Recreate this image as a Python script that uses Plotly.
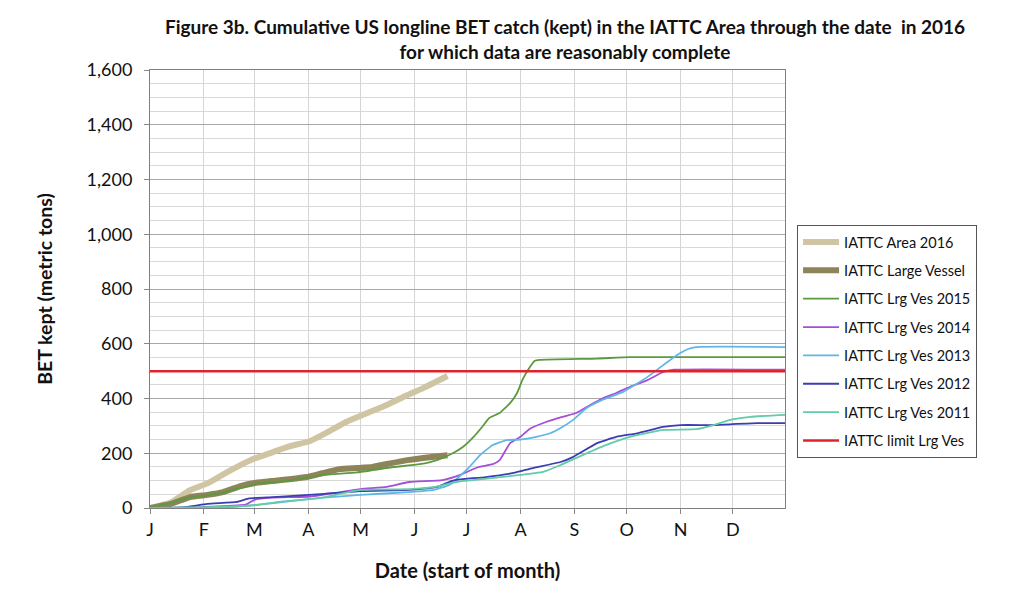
import pandas as pd
import plotly.graph_objects as go

# ---- data: day of year (0 = Jan 1) and cumulative BET kept (metric tons) ----
area2016_day = [0, 12, 23, 33, 40, 50, 59, 71, 80, 92, 102, 113, 125, 136, 148, 157, 171]
area2016_val = [0, 20, 65, 90, 115, 150, 178, 205, 225, 245, 277, 315, 347, 376, 413, 438, 482]

large_day = [0, 12, 23, 33, 42, 52, 61, 71, 80, 90, 99, 109, 119, 128, 138, 148, 157, 171]
large_val = [0, 15, 40, 48, 58, 80, 92, 99, 105, 113, 127, 142, 146, 150, 163, 175, 183, 193]

y2015_day = [0, 23, 42, 61, 80, 99, 119, 138, 155, 165, 174, 180, 186, 191, 195, 201, 207, 211, 214, 218, 221, 224, 257, 276, 365]
y2015_val = [0, 38, 55, 88, 100, 120, 130, 148, 160, 175, 200, 224, 260, 297, 329, 347, 383, 420, 467, 511, 537, 541, 546, 551, 551]

y2014_day = [0, 20, 35, 55, 60, 70, 92, 121, 136, 149, 168, 178, 188, 197, 201, 207, 213, 218, 228, 237, 245, 253, 260, 268, 276, 286, 295, 301, 365]
y2014_val = [0, 0, 5, 12, 30, 38, 42, 69, 77, 95, 102, 120, 148, 160, 175, 237, 260, 288, 315, 333, 347, 376, 400, 420, 443, 467, 497, 505, 505]

y2013_day = [0, 40, 50, 71, 98, 121, 149, 163, 172, 182, 190, 197, 205, 213, 222, 230, 236, 243, 251, 260, 272, 286, 295, 303, 309, 314, 365]
y2013_val = [0, 0, 5, 18, 37, 48, 58, 66, 84, 139, 195, 230, 248, 250, 260, 273, 292, 321, 365, 395, 424, 479, 522, 559, 580, 588, 588]

y2012_day = [0, 20, 33, 50, 57, 71, 98, 121, 149, 165, 174, 181, 193, 209, 220, 236, 243, 257, 268, 280, 295, 305, 324, 337, 349, 365]
y2012_val = [0, 3, 15, 22, 35, 40, 51, 62, 66, 77, 100, 106, 113, 128, 146, 168, 186, 237, 260, 273, 296, 303, 303, 307, 310, 310]

y2011_day = [0, 33, 60, 71, 98, 121, 149, 164, 176, 181, 209, 226, 236, 246, 262, 276, 295, 314, 324, 333, 345, 365]
y2011_val = [0, 3, 10, 20, 37, 66, 69, 77, 95, 99, 118, 132, 157, 186, 230, 260, 285, 288, 303, 321, 333, 340]

limit_day = [0, 365]
limit_val = [500, 500]

month_ticks = ["2016-01-01", "2016-02-01", "2016-03-01", "2016-04-01", "2016-05-01", "2016-06-01",
               "2016-07-01", "2016-08-01", "2016-09-01", "2016-10-01", "2016-11-01", "2016-12-01"]
month_labels = ["J", "F", "M", "A", "M", "J", "J", "A", "S", "O", "N", "D"]

series = [
    ("IATTC Area 2016", area2016_day, area2016_val, "#CFC5A3", 6),
    ("IATTC Large Vessel", large_day, large_val, "#8E845A", 6),
    ("IATTC Lrg Ves 2015", y2015_day, y2015_val, "#5B9A3F", 1.8),
    ("IATTC Lrg Ves 2014", y2014_day, y2014_val, "#A54ED8", 1.8),
    ("IATTC Lrg Ves 2013", y2013_day, y2013_val, "#5EB8E6", 1.8),
    ("IATTC Lrg Ves 2012", y2012_day, y2012_val, "#3B3DB2", 1.8),
    ("IATTC Lrg Ves 2011", y2011_day, y2011_val, "#62CBA7", 1.8),
    ("IATTC limit Lrg Ves", limit_day, limit_val, "#E0232B", 2.5),
]

base = pd.Timestamp("2016-01-01")
FONT = "Lato"

fig = go.Figure()
for i, (name, days, vals, color, width) in enumerate(series):
    dates = [base + pd.Timedelta(days=d) for d in days]
    fig.add_trace(go.Scatter(
        x=dates, y=vals, mode="lines", name=name,
        line=dict(color=color, width=width, shape="spline", smoothing=0.4),
        legendgroup="g%d" % i,
    ))

fig.update_layout(
    width=1008, height=577,
    paper_bgcolor="white", plot_bgcolor="white",
    margin=dict(l=142, r=231, t=62, b=77),
    font=dict(family=FONT, color="#111111"),
    title=dict(
        text="<b>Figure 3b. Cumulative US longline BET catch (kept) in the IATTC Area through the date  in 2016<br>for which data are reasonably complete</b>",
        x=0.5526, xanchor="center", y=0.955, yanchor="top",
        font=dict(family=FONT, size=19, color="#111111"),
    ),
    showlegend=True,
    legend=dict(
        x=1.019, y=0.646, xanchor="left", yanchor="top",
        bordercolor="#555555", borderwidth=1,
        font=dict(family=FONT, size=14.5, color="#111111"),
        tracegroupgap=6.5, traceorder="grouped",
        itemwidth=36,
    ),
    xaxis=dict(
        type="date",
        range=["2016-01-01", "2016-12-31"],
        tickvals=month_ticks, ticktext=month_labels,
        ticks="outside", ticklen=5, tickcolor="#888888",
        showgrid=True, gridcolor="#D4D4D4", gridwidth=1,
        showline=True, linecolor="#808080", linewidth=1, mirror=True,
        tickfont=dict(family=FONT, size=18, color="#111111"),
        title=dict(text="<b>Date (start of month)</b>", font=dict(family=FONT, size=20, color="#111111"), standoff=25),
        zeroline=False,
        automargin=False,
    ),
    yaxis=dict(
        range=[0, 1600], dtick=200,
        tickformat=",d",
        ticks="outside", ticklen=5, tickcolor="#888888",
        ticklabelstandoff=8,
        showgrid=True, gridcolor="#A8A8A8", gridwidth=1,
        minor=dict(dtick=50, showgrid=True, gridcolor="#D8D8D8", gridwidth=1),
        showline=True, linecolor="#808080", linewidth=1, mirror=True,
        tickfont=dict(family=FONT, size=18, color="#111111"),
        title=dict(text="<b>BET kept (metric tons)</b>", font=dict(family=FONT, size=19.5, color="#111111"), standoff=28),
        zeroline=False,
        automargin=False,
    ),
)

fig.write_html("out.html")
